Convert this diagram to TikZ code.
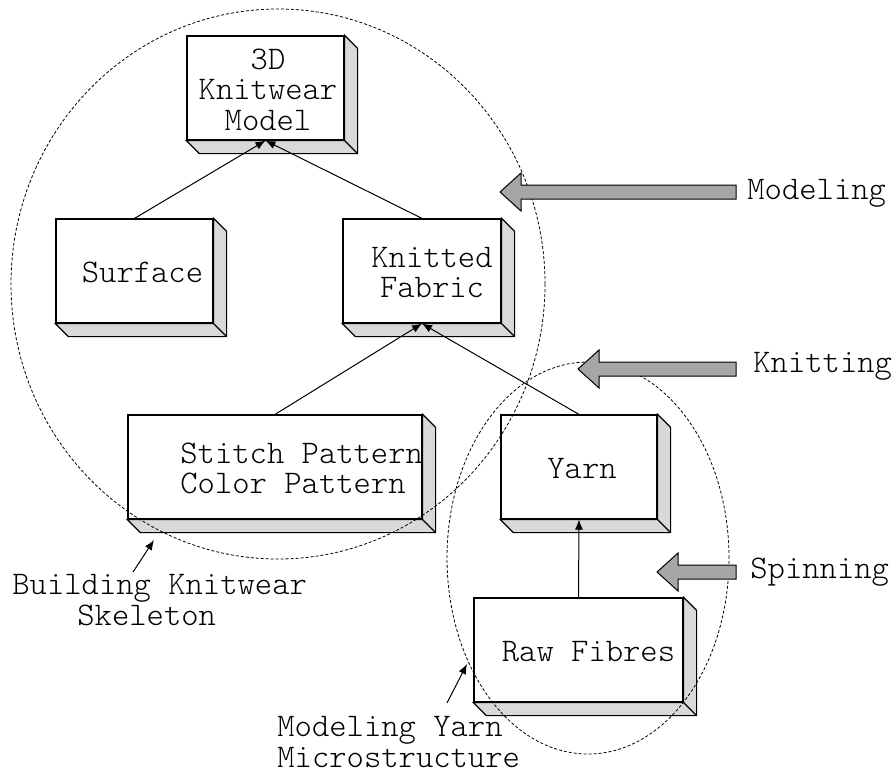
\documentclass[tikz,border=0pt]{standalone}
\usepackage{fontspec}
\setmonofont{Latin Modern Mono Light}
\usepackage{xcolor}
\definecolor{sidegray}{HTML}{D9D9D9}
\definecolor{arrowgray}{HTML}{A6A6A6}
\usetikzlibrary{arrows.meta}

\begin{document}
\begin{tikzpicture}[x=0.5pt, y=-0.5pt, font=\fontsize{16.5}{15.3}\selectfont\ttfamily,
		block/.style={
					rectangle, minimum height = 52pt, minimum width = #1, inner sep = 0pt,
					line width = 0.6pt, draw = black, fill = white},
		blocktext/.style={align = center, inner sep = 0pt},
		link/.style={-{Latex[length=5pt,width=4pt]}, line width = 0.5pt},
		zone/.style={draw, line width = 0.4pt, dash pattern = on 1.5pt off 1pt},
		bigarrow/.style={draw, line width = 0.5pt, fill = arrowgray},
		stage/.style={anchor = west, inner sep = 0pt},
		note/.style={anchor = west, align = left, inner sep = 0pt}]
		\useasboundingbox (0,0) rectangle (893,772);
		% boxes
		\node (model) [block=78.5pt] at (265.5,88) {};
		\node (surface) [block=78.5pt] at (134.5,271) {};
		\node (fabric) [block=79pt] at (422,271) {};
		\node (pattern) [block=147pt] at (275,467) {};
		\node (yarn) [block=78pt] at (579,467) {};
		\node (fibres) [block=104.5pt] at (578.5,650) {};
		\foreach \n in {model,surface,fabric,pattern,yarn,fibres} {
			\filldraw[fill = sidegray, line width = 0.6pt] (\n.north east) -- ([shift={(13,13)}]\n.north east)
				-- ([shift={(13,13)}]\n.south east) -- ([shift={(13,13)}]\n.south west)
				-- (\n.south west) -- (\n.south east) -- cycle;
			\draw[line width = 0.6pt] (\n.south east) -- ([shift={(13,13)}]\n.south east);
		}
		\node (model-t) [blocktext] at ([shift={(2.5,1.5)}]model.center) {3D\\Knitwear\\Model};
		\node (surface-t) [blocktext] at ([shift={(8,1.5)}]surface.center) {Surface};
		\node (fabric-t) [blocktext] at ([shift={(10,1.5)}]fabric.center) {Knitted\\Fabric};
		\node (pattern-t) [note] at (180,468.5) {Stitch Pattern\\Color Pattern};
		\node (yarn-t) [blocktext] at ([shift={(3,1.5)}]yarn.center) {Yarn};
		\node (fibres-t) [blocktext] at ([shift={(10,1.5)}]fibres.center) {Raw Fibres};
		% links
		\draw[link] (surface.north) -- (model.south);
		\draw[link] (fabric.north) -- (model.south);
		\draw[link] (pattern.north) -- (fabric.south);
		\draw[link] (yarn.north) -- (fabric.south);
		\draw[link] (fibres.north) -- (yarn.south);
		% zones
		\draw[zone] (278,284) ellipse [x radius = 133.5pt, y radius = 137.5pt];
		\draw[zone] (588,558) ellipse [x radius = 70.5pt, y radius = 98pt];
		% process arrows
		\foreach \tip/\y in {500/192, 578/369, 657/572}
			\filldraw[bigarrow] (\tip,\y) -- ++(21,-19) -- ++(0,12) -- (736,{\y-7})
				-- (736,{\y+7}) -- ({\tip+21},{\y+7}) -- ++(0,12) -- cycle;
		\node (modeling) [stage] at (747,193) {Modeling};
		\node (knitting) [stage] at (753,366) {Knitting};
		\node (spinning) [stage] at (750,572) {Spinning};
		% notes
		\node (skeleton) [note] at (12,600) {Building Knitwear\\\hspace*{32.5pt}Skeleton};
		\node (micro) [note] at (277,742) {Modeling Yarn\\Microstructure};
		\coordinate (skeleton-from) at (133,572);
		\coordinate (skeleton-to) at (154,540);
		\coordinate (micro-from) at (447,703);
		\coordinate (micro-to) at (467,664);
		\draw[link] (skeleton-from) -- (skeleton-to);
		\draw[link] (micro-from) -- (micro-to);
	\end{tikzpicture}
\end{document}
